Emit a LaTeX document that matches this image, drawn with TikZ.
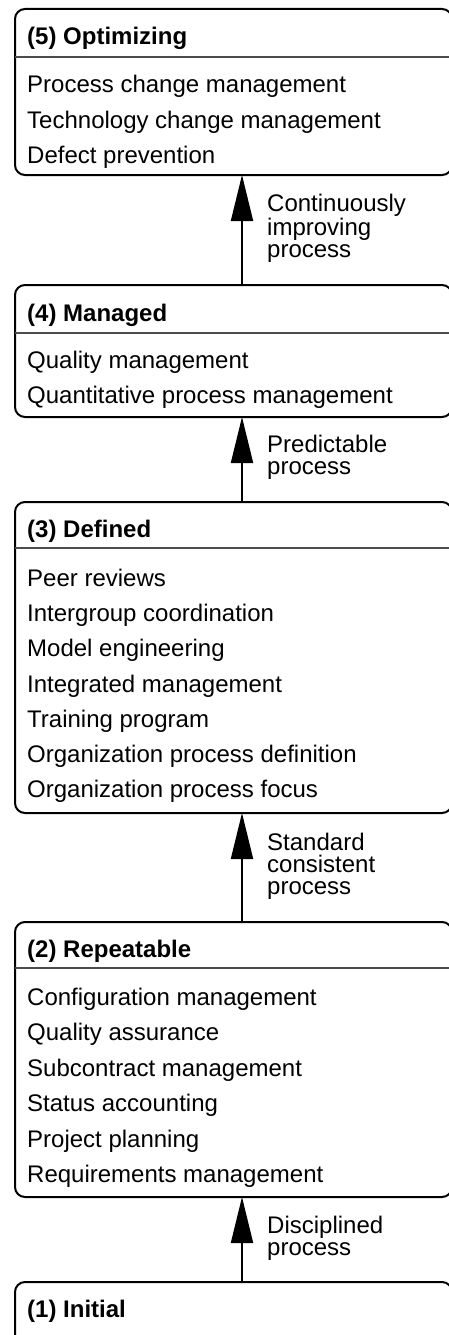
\documentclass[tikz,border=0pt]{standalone}
\usepackage{fontspec}
\setmainfont{Liberation Sans}
\usetikzlibrary{arrows.meta}
\begin{document}
\begin{tikzpicture}[x=1pt,y=-1pt,
  box/.style={draw, line width=2pt, rounded corners=10pt, outer sep=0pt, inner sep=0pt, anchor=north west, minimum width=437pt},
  sepline/.style={line width=1.2pt, draw=black!70},
  txt/.style={anchor=base west, inner sep=0pt, font=\fontsize{24}{28}\selectfont},
  hdr/.style={anchor=base west, inner sep=0pt, font=\fontsize{24}{28}\selectfont\bfseries},
  lbl/.style={anchor=base west, inner sep=0pt, align=left, font=\fontsize{24}{22.3}\selectfont},
  arr/.style={line width=2pt, -{Triangle[length=46pt,width=22pt]}}]
\useasboundingbox (0,0) rectangle (449,1335);
\clip (0,0) rectangle (449,1335);
\coordinate (ax) at (242,0);

% (5) Optimizing
\node[box, minimum height=166pt] (b5) at (15,9) {};
\draw[sepline] ([yshift=-48pt]b5.north west) -- ([yshift=-48pt]b5.north east);
\node[hdr] (h5) at (27,45) {(5) Optimizing};
\node[txt] (t51) at (27,93) {Process change management};
\node[txt] (t52) at (27,128.3) {Technology change management};
\node[txt] (t53) at (27,163.6) {Defect prevention};

% (4) Managed
\node[box, minimum height=132pt] (b4) at (15,285) {};
\draw[sepline] ([yshift=-48pt]b4.north west) -- ([yshift=-48pt]b4.north east);
\node[hdr] (h4) at (27,321) {(4) Managed};
\node[txt] (t41) at (27,368.5) {Quality management};
\node[txt] (t42) at (27,403.8) {Quantitative process management};

% (3) Defined
\node[box, minimum height=311pt] (b3) at (15,502) {};
\draw[sepline] ([yshift=-46pt]b3.north west) -- ([yshift=-46pt]b3.north east);
\node[hdr] (h3) at (27,537) {(3) Defined};
\node[txt] (t31) at (27,586) {Peer reviews};
\node[txt] (t32) at (27,621.3) {Intergroup coordination};
\node[txt] (t33) at (27,656.6) {Model engineering};
\node[txt] (t34) at (27,692) {Integrated management};
\node[txt] (t35) at (27,727.2) {Training program};
\node[txt] (t36) at (27,762.5) {Organization process definition};
\node[txt] (t37) at (27,797.8) {Organization process focus};

% (2) Repeatable
\node[box, minimum height=275pt] (b2) at (15,922) {};
\draw[sepline] ([yshift=-46pt]b2.north west) -- ([yshift=-46pt]b2.north east);
\node[hdr] (h2) at (27,957) {(2) Repeatable};
\node[txt] (t21) at (27,1005) {Configuration management};
\node[txt] (t22) at (27,1040.5) {Quality assurance};
\node[txt] (t23) at (27,1076) {Subcontract management};
\node[txt] (t24) at (27,1111.5) {Status accounting};
\node[txt] (t25) at (27,1147) {Project planning};
\node[txt] (t26) at (27,1182.5) {Requirements management};

% (1) Initial
\node[box, minimum height=90pt] (b1) at (15,1282) {};
\node[hdr] (h1) at (27,1317) {(1) Initial};

% arrows
\draw[arr] (b4.north -| ax) -- (b5.south -| ax);
\draw[arr] (b3.north -| ax) -- (b4.south -| ax);
\draw[arr] (b2.north -| ax) -- (b3.south -| ax);
\draw[arr] (b1.north -| ax) -- (b2.south -| ax);

% labels (base anchor = last line's baseline)
\node[lbl] (l54) at (267,257.6) {Continuously\\improving\\process};
\node[lbl] (l43) at (267,474.3) {Predictable\\process};
\node[lbl] (l32) at (267,894.6) {Standard\\consistent\\process};
\node[lbl] (l21) at (267,1255.3) {Disciplined\\process};
\end{tikzpicture}
\end{document}
